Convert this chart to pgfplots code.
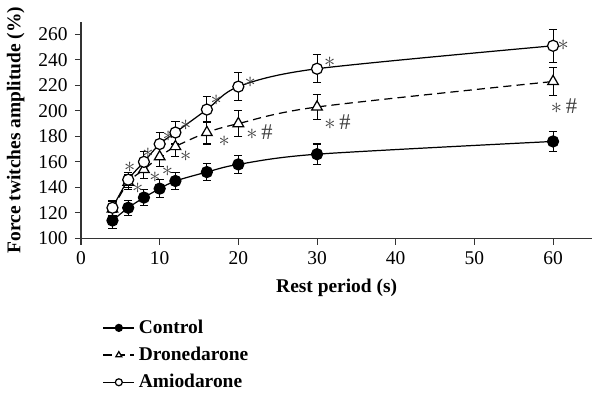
\documentclass[border=0pt]{standalone}
\usepackage{pgfplots}
\pgfplotsset{compat=1.18}
\usepackage{pgfplotstable}
\usepackage{fontspec}
\setmainfont{Liberation Serif}
\pgfplotstableread{
x y e
4 114 6
6 124 6
8 132 6
10 139 7
12 145 7
16 152 7
20 158 7
30 166 8
60 176 8
}\control
\pgfplotstableread{
x y e
4 123 6
6 144 6
8 154 7
10 164 8
12 172 8
16 183 9
20 190 10
30 203 10
60 223 11
}\drone
\pgfplotstableread{
x y e
4 124 6
6 146 6
8 160 8
10 174 9
12 183 9
16 201 10
20 219 11
30 233 11
60 251 13
}\amio
\begin{document}
\begin{tikzpicture}
\begin{axis}[
  scale only axis,
  width=250pt, height=106pt,
  xmin=0, xmax=65, ymin=100, ymax=270,
  axis x line=bottom, axis y line=left,
  axis line style={-, line width=0.6pt, black!80},
  xtick={0,10,...,60}, ytick={100,120,...,260},
  tick align=outside, tick style={black!80, line width=0.5pt},
  major tick length=3pt,
  /pgf/number format/assume math mode=true,
  ticklabel style={font=\fontsize{9.5}{11}\selectfont},
  xlabel={\textbf{Rest period (s)}},
  ylabel={\textbf{Force twitches amplitude (\%)}},
  label style={font=\fontsize{9.5}{11}\selectfont},
  legend style={at={(0.03,-0.335)}, anchor=north west, draw=none, fill=none,
    font=\fontsize{9.5}{11}\selectfont\bfseries, row sep=1.2pt,
    legend cell align=left},
  legend image code/.code={
    \draw[#1] (0pt,0pt) -- (15pt,0pt);
    \draw[#1, only marks, mark size=1.7pt] plot coordinates {(7.5pt,0pt)};},
  error bars/error bar style={black, line width=0.5pt, solid},
  error bars/error mark options={rotate=90, mark size=2pt, black, line width=0.5pt},
]
\addplot[black, line width=0.6pt, smooth, mark=*, mark size=2.7pt,
  mark options={solid, fill=black},
  error bars/.cd, y dir=both, y explicit]
  table[x=x, y=y, y error=e] {\control};
\addlegendentry{Control}
\addplot[black, line width=0.6pt, smooth, dash pattern=on 4pt off 2.5pt, mark=triangle*, mark size=3pt,
  mark options={solid, fill=white},
  error bars/.cd, y dir=both, y explicit]
  table[x=x, y=y, y error=e] {\drone};
\addlegendentry{Dronedarone}
\addplot[black, line width=0.6pt, smooth, mark=*, mark size=2.7pt,
  mark options={solid, fill=white},
  error bars/.cd, y dir=both, y explicit]
  table[x=x, y=y, y error=e] {\amio};
\addlegendentry{Amiodarone}
\begin{scope}[every node/.style={font=\fontsize{11}{12}\selectfont, text=black!75, inner sep=0pt}]
\node at (axis cs:6.2,156) {$\ast$};
\node at (axis cs:8.5,167) {$\ast$};
\node at (axis cs:11.1,180) {$\ast$};
\node at (axis cs:13.3,189) {$\ast$};
\node at (axis cs:17.2,208) {$\ast$};
\node at (axis cs:21.5,222) {$\ast$};
\node at (axis cs:31.6,238) {$\ast$};
\node at (axis cs:61.3,251) {$\ast$};
\node at (axis cs:7.2,139) {$\ast$};
\node at (axis cs:9.4,148) {$\ast$};
\node at (axis cs:11.0,152.5) {$\ast$};
\node at (axis cs:13.3,164) {$\ast$};
\node at (axis cs:18.2,176) {$\ast$};
\node at (axis cs:22.7,183) {$\ast$\,\#};
\node at (axis cs:32.6,191) {$\ast$\,\#};
\node at (axis cs:61.4,203.5) {$\ast$\,\#};
\end{scope}
\end{axis}
\end{tikzpicture}
\end{document}
